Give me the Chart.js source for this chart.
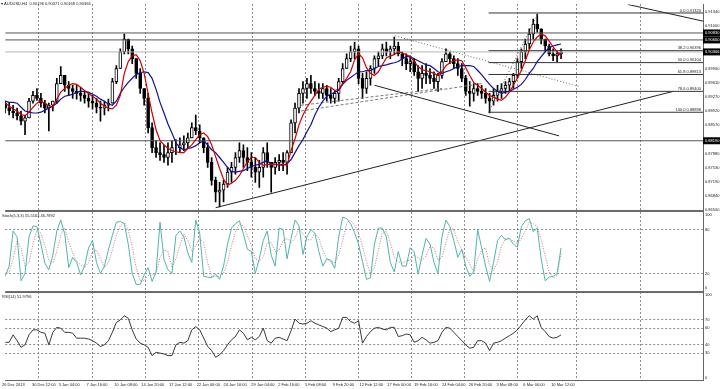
<!DOCTYPE html>
<html lang="en">
<head>
<meta charset="UTF-8">
<title>AUDUSD H4</title>
<script src="https://cdn.jsdelivr.net/npm/chart.js"></script>
<style>
  html, body { margin: 0; padding: 0; background: #fff; }
  canvas { display: block; }
</style>
</head>
<body>
<canvas id="chart" width="720" height="389"></canvas>
<script>
// H4 candles, one entry per bar (bar index = position on the time axis)
const opens = [
  .8911,.8899,.8892,.8887,.8880,.8867,.8875,.8916,.8930,.8923,
  .8911,.8899,.8906,.8916,.8959,.8979,.8955,.8947,.8940,.8935,
  .8930,.8923,.8916,.8911,.8901,.8899,.8906,.8911,.8964,.8996,
  .9037,.9068,.9044,.9020,.8984,.8947,.8923,.8851,.8802,.8790,
  .8785,.8778,.8790,.8802,.8802,.8809,.8814,.8826,.8851,.8843,
  .8826,.8802,.8766,.8722,.8693,.8698,.8713,.8742,.8754,.8778,
  .8795,.8778,.8766,.8754,.8742,.8754,.8790,.8766,.8754,.8766,
  .8771,.8766,.8790,.8863,.8899,.8935,.8947,.8959,.8947,.8940,
  .8935,.8947,.8930,.8923,.8935,.8964,.8996,.9020,.9037,.9044,
  .8972,.8947,.8972,.8996,.9020,.9027,.9044,.9037,.9044,.9051,
  .9032,.9020,.9008,.9013,.8988,.8972,.8984,.8979,.8972,.8964,
  .8979,.9013,.9032,.9020,.9008,.8996,.8972,.8940,.8935,.8947,
  .8940,.8935,.8923,.8916,.8930,.8940,.8947,.8955,.8964,.8979,
  .9013,.9037,.9056,.9080,.9105,.9093,.9068,.9051,.9032,.9027,
  .9032];
const highs = [
  .8916,.8911,.8906,.8899,.8892,.8882,.8923,.8940,.8947,.8935,
  .8918,.8911,.8916,.8972,.9001,.8979,.8964,.8955,.8955,.8950,
  .8940,.8935,.8930,.8923,.8916,.8916,.8921,.8972,.9003,.9044,
  .9080,.9068,.9051,.9020,.8996,.8947,.8935,.8863,.8819,.8814,
  .8809,.8814,.8819,.8822,.8826,.8831,.8838,.8863,.8882,.8858,
  .8826,.8814,.8778,.8730,.8717,.8722,.8754,.8766,.8790,.8814,
  .8809,.8802,.8790,.8778,.8771,.8802,.8814,.8766,.8778,.8785,
  .8790,.8795,.8870,.8911,.8947,.8964,.8972,.8979,.8964,.8959,
  .8959,.8955,.8947,.8940,.8972,.9008,.9032,.9051,.9061,.9051,
  .8984,.8988,.9003,.9027,.9037,.9056,.9061,.9051,.9073,.9061,
  .9037,.9032,.9027,.9020,.9003,.9003,.9008,.8996,.8988,.8984,
  .9020,.9044,.9037,.9027,.9020,.9008,.8979,.8964,.8959,.8959,
  .8955,.8947,.8935,.8947,.8955,.8959,.8964,.8972,.8984,.9020,
  .9044,.9068,.9093,.9117,.9129,.9093,.9068,.9056,.9044,.9039,
  .9044];
const lows = [
  .8887,.8882,.8875,.8870,.8858,.8834,.8875,.8911,.8918,.8901,
  .8887,.8843,.8892,.8911,.8959,.8940,.8930,.8923,.8921,.8916,
  .8911,.8901,.8897,.8887,.8867,.8882,.8892,.8911,.8959,.8996,
  .9032,.9032,.9008,.8972,.8935,.8906,.8838,.8790,.8778,.8771,
  .8766,.8759,.8766,.8785,.8790,.8795,.8802,.8826,.8834,.8814,
  .8790,.8754,.8710,.8669,.8657,.8669,.8705,.8717,.8737,.8766,
  .8754,.8746,.8730,.8717,.8705,.8730,.8754,.8693,.8737,.8746,
  .8746,.8737,.8790,.8838,.8887,.8911,.8923,.8935,.8930,.8923,
  .8923,.8916,.8911,.8911,.8916,.8959,.8996,.9013,.9020,.8959,
  .8923,.8935,.8955,.8984,.9003,.9020,.9027,.9020,.9032,.9027,
  .9003,.8993,.8988,.8979,.8940,.8947,.8959,.8959,.8947,.8940,
  .8972,.9013,.9008,.8996,.8979,.8964,.8930,.8904,.8916,.8930,
  .8923,.8911,.8887,.8906,.8916,.8923,.8935,.8940,.8947,.8972,
  .8996,.9020,.9044,.9068,.9085,.9056,.9037,.9027,.9015,.9013,
  .9020];
const closes = [
  .8899,.8892,.8887,.8880,.8867,.8875,.8916,.8930,.8923,.8911,
  .8899,.8906,.8916,.8959,.8979,.8955,.8947,.8940,.8935,.8930,
  .8923,.8916,.8911,.8901,.8899,.8906,.8911,.8964,.8996,.9037,
  .9068,.9044,.9020,.8984,.8947,.8923,.8851,.8802,.8790,.8785,
  .8778,.8790,.8802,.8802,.8809,.8814,.8826,.8851,.8843,.8826,
  .8802,.8766,.8722,.8693,.8698,.8713,.8742,.8754,.8778,.8795,
  .8778,.8766,.8754,.8742,.8754,.8790,.8766,.8754,.8766,.8771,
  .8766,.8790,.8863,.8899,.8935,.8947,.8959,.8947,.8940,.8935,
  .8947,.8930,.8923,.8935,.8964,.8996,.9020,.9037,.9044,.8972,
  .8947,.8972,.8996,.9020,.9027,.9044,.9037,.9044,.9051,.9032,
  .9020,.9008,.9013,.8988,.8972,.8984,.8979,.8972,.8964,.8979,
  .9013,.9032,.9020,.9008,.8996,.8972,.8940,.8935,.8947,.8940,
  .8935,.8923,.8916,.8930,.8940,.8947,.8955,.8964,.8979,.9013,
  .9037,.9056,.9080,.9105,.9093,.9068,.9051,.9032,.9027,.9032,
  .9037];

// moving averages (red = fast, blue = slow)
const maFast = [
  .8911,.8904,.8897,.8892,.8884,.8880,.8889,.8901,.8911,.8916,
  .8911,.8904,.8901,.8921,.8938,.8947,.8955,.8959,.8957,.8950,
  .8942,.8935,.8928,.8921,.8911,.8904,.8899,.8897,.8906,.8930,
  .8984,.9013,.9027,.9030,.9015,.8984,.8935,.8887,.8846,.8819,
  .8809,.8800,.8795,.8792,.8790,.8790,.8800,.8809,.8822,.8834,
  .8838,.8829,.8809,.8780,.8751,.8725,.8710,.8715,.8722,.8734,
  .8751,.8768,.8778,.8778,.8766,.8759,.8761,.8761,.8761,.8761,
  .8761,.8759,.8795,.8824,.8858,.8882,.8901,.8916,.8930,.8945,
  .8950,.8952,.8950,.8942,.8945,.8959,.8972,.8988,.9017,.9032,
  .9022,.8998,.8984,.8979,.8988,.9005,.9022,.9027,.9030,.9037,
  .9034,.9030,.9025,.9013,.9001,.8993,.8991,.8988,.8984,.8979,
  .8988,.9003,.9010,.9015,.9017,.9015,.8998,.8979,.8962,.8955,
  .8947,.8938,.8930,.8926,.8921,.8918,.8926,.8938,.8955,.8972,
  .8991,.9015,.9042,.9061,.9073,.9080,.9076,.9063,.9049,.9037,
  .9027];
const maSlow = [
  .8916,.8913,.8913,.8911,.8901,.8892,.8889,.8887,.8887,.8889,
  .8894,.8899,.8904,.8911,.8921,.8928,.8930,.8933,.8938,.8940,
  .8940,.8938,.8933,.8928,.8921,.8916,.8909,.8906,.8916,.8935,
  .8950,.8962,.8972,.8981,.8986,.8988,.8986,.8972,.8945,.8913,
  .8887,.8860,.8838,.8814,.8802,.8797,.8800,.8802,.8807,.8814,
  .8819,.8809,.8797,.8790,.8778,.8766,.8754,.8744,.8742,.8744,
  .8746,.8751,.8756,.8759,.8761,.8766,.8771,.8761,.8761,.8759,
  .8759,.8763,.8773,.8790,.8807,.8822,.8841,.8858,.8882,.8901,
  .8916,.8928,.8933,.8938,.8942,.8957,.8967,.8974,.8981,.8988,
  .8988,.8991,.8991,.8996,.9001,.9003,.9005,.9008,.9010,.9013,
  .9020,.9025,.9025,.9020,.9015,.9010,.9005,.9003,.8996,.8988,
  .8984,.8988,.8991,.8996,.9001,.9003,.9003,.9003,.9001,.8991,
  .8981,.8969,.8957,.8947,.8940,.8935,.8938,.8940,.8945,.8950,
  .8957,.8969,.8984,.8996,.9013,.9025,.9037,.9047,.9051,.9054,
  .9056];

// Stochastic (5,3,3): main and signal
const stochMain = [
  16,30,78,70,10,20,70,85,84,60, 34,25,45,78,93,74,28,42,35,18,
  30,55,65,35,20,30,52,72,90,91, 88,60,20,5,5,18,28,9,22,90,
  39,25,20,72,78,70,48,35,93,75, 16,15,14,19,12,30,60,82,88,92,
  74,53,50,20,40,65,78,45,30,82, 80,40,68,93,85,46,70,80,75,50,
  30,40,38,27,70,97,95,88,76,60, 36,12,14,60,82,82,70,35,22,50,
  30,30,55,50,19,45,68,60,35,20, 70,93,84,65,42,53,30,16,22,80,
  55,30,9,35,65,72,66,68,60,56, 84,92,95,77,82,40,10,15,16,20,
  55];
const stochSignal = [
  20,22,40,65,55,30,35,60,80,75, 58,38,34,50,72,82,63,48,36,32,
  28,35,50,52,40,28,35,52,72,85, 90,80,56,28,10,10,17,18,20,42,
  52,50,28,40,58,74,65,50,58,68, 62,35,15,16,15,20,35,58,77,88,
  85,72,58,40,37,42,62,62,50,52, 65,68,62,68,82,74,66,66,75,68,
  52,40,36,35,45,65,88,93,86,75, 57,36,20,28,52,75,78,62,42,36,
  34,37,38,45,41,38,44,58,54,38, 42,62,82,80,63,53,42,33,22,40,
  52,55,31,24,36,57,68,68,64,61, 67,78,90,88,84,66,44,22,14,17,
  47];

// RSI(14)
const rsi = [
  43,43,52,45,37,40,52,58,58,55, 54,40,55,61,60,55,55,54,48,48,
  48,47,45,42,38,40,45,55,67,70, 75,72,58,47,42,40,37,27,31,30,
  29,27,27,40,43,42,45,58,62,58, 48,38,33,25,28,33,40,46,50,58,
  54,46,49,46,50,60,45,42,48,49, 47,45,57,71,66,65,66,69,66,64,
  62,60,56,58,60,73,73,68,66,69, 42,50,56,60,61,59,58,61,61,50,
  51,53,52,43,45,49,46,42,43,45, 55,61,60,55,50,45,40,36,37,45,
  45,42,33,42,43,45,48,51,54,58, 64,70,75,71,75,61,56,50,48,49,
  52];

// time axis: bar index of each label, and of each dashed grid line
const xLabelPos = [-0.8, 6.75, 13.5, 20.5, 27.5, 34.25, 41.25, 48.25, 55, 62, 68.75,
  75.5, 82.5, 89.25, 96.25, 103, 110, 116.75, 123.75, 130.5, 137.5];
const xLabels = ['26 Dec 2013', '30 Dec 12:00', '3 Jan 04:00', '7 Jan 16:00', '10 Jan 08:00',
  '14 Jan 20:00', '17 Jan 12:00', '22 Jan 00:00', '24 Jan 16:00', '29 Jan 04:00', '2 Feb 16:00',
  '5 Feb 08:00', '9 Feb 20:00', '12 Feb 12:00', '17 Feb 00:00', '19 Feb 16:00', '24 Feb 04:00',
  '26 Feb 20:00', '3 Mar 08:00', '6 Mar 00:00', '10 Mar 12:00'];
const gridPos = [15.25, 28.75, 42, 55.5, 69, 82.25, 95.5, 109, 122.25, 135.75, 152];
const lastIndex = 175.75;

// price scale labels and marked prices
const priceTicks = [0.91340, 0.91000, 0.89960, 0.89610, 0.89270, 0.88920, 0.88570,
  0.87880, 0.87530, 0.87190, 0.86840, 0.86500];
const hLinePrices = [0.90830, 0.90660, 0.88190];
const bidPrice = 0.90366;
const fibStart = 121.75;
const fibLevels = [0.91320, 0.90396, 0.90104, 0.89813, 0.89400, 0.88888];
const fibNames = ['0.0', '38.2', '50.0', '61.8', '78.6', '100.0'];

// drawn objects: [bar0, price0, bar1, price1]
const solidLines = [
  [53, 0.8655, 168.25, 0.8940],
  [93, 0.8955, 139.5, 0.8831],
  [156.75, 0.9153, 175.75, 0.9112]
];
const dottedLines = [
  [98.25, 0.9076, 144.5, 0.8952],
  [121.75, 0.88888, 134.25, 0.91320]
];
const dashedLines = [
  [74.5, 0.8892, 120, 0.8959],
  [74.5, 0.8906, 110, 0.8947]
];

const stochTicks = [0, 20, 80, 100];
const rsiTicks = [0, 30, 40, 60, 70, 100];

Chart.defaults.font.family = '"Liberation Sans", Arial, sans-serif';
Chart.defaults.font.size = 4;
Chart.defaults.color = '#222';

const idx = closes.map((c, i) => i);
const seg = (s) => [{x: s[0], y: s[1]}, {x: s[2], y: s[3]}];
const lineDs = (data, color, opts) => Object.assign({
  type: 'line', data: data, borderColor: color, borderWidth: 1,
  pointRadius: 0, tension: 0, xAxisID: 'x', yAxisID: 'y', order: 1
}, opts || {});

const datasets = [];
// moving averages on top
datasets.push(lineDs(idx.map(i => ({x: i, y: maFast[i]})), '#cc0000', {borderWidth: 1.2, order: 0}));
datasets.push(lineDs(idx.map(i => ({x: i, y: maSlow[i]})), '#10109a', {borderWidth: 1.2, order: 0}));
// candles
datasets.push({
  type: 'bar', xAxisID: 'x', yAxisID: 'y', order: 2, grouped: false,
  data: idx.map(i => ({x: i, y: [opens[i], closes[i]]})),
  backgroundColor: idx.map(i => closes[i] >= opens[i] ? '#fff' : '#000'),
  borderColor: '#000', borderWidth: 1, borderSkipped: false, barThickness: 3
});
datasets.push({
  type: 'bar', xAxisID: 'x', yAxisID: 'y', order: 3, grouped: false,
  data: idx.map(i => ({x: i, y: [lows[i], highs[i]]})),
  backgroundColor: '#000', barThickness: 1
});
// horizontal lines, fib levels, trend lines
hLinePrices.forEach(p => datasets.push(lineDs([{x: 0, y: p}, {x: lastIndex, y: p}], '#555')));
datasets.push(lineDs([{x: 0, y: bidPrice}, {x: lastIndex, y: bidPrice}], '#b4b4b4'));
fibLevels.forEach(p => datasets.push(lineDs([{x: fibStart, y: p}, {x: lastIndex, y: p}], '#333')));
solidLines.forEach(s => datasets.push(lineDs(seg(s), '#222')));
dottedLines.forEach(s => datasets.push(lineDs(seg(s), '#666', {borderDash: [1, 2]})));
dashedLines.forEach(s => datasets.push(lineDs(seg(s), '#777', {borderDash: [3, 2]})));
// stochastic
datasets.push(lineDs(idx.map(i => ({x: i, y: stochMain[i]})), '#4fb5ad', {yAxisID: 'ys'}));
datasets.push(lineDs(idx.map(i => ({x: i, y: stochSignal[i]})), '#c87878', {yAxisID: 'ys', borderDash: [1, 1.5]}));
// rsi
datasets.push(lineDs(idx.map(i => ({x: i, y: rsi[i]})), '#222', {yAxisID: 'yr', borderWidth: 0.9}));

const rightAxis = (extra) => Object.assign({
  position: 'right', stack: 'panes', offset: false,
  afterFit: s => { s.width = 17; },
  border: {color: '#666', dash: [2, 2]},
  ticks: {padding: 2, autoSkip: false, font: {size: 4}, color: '#222'}
}, extra);

const overlay = {
  id: 'overlay',
  afterDraw(chart) {
    const {ctx, scales} = chart;
    const {x, y, ys, yr} = scales;
    ctx.save();
    // pane separators
    ctx.fillStyle = '#6a6a6a';
    ctx.fillRect(x.left, ys.top - 1, x.right - x.left, 2);
    ctx.fillRect(x.left, yr.top - 1, x.right - x.left, 2);
    // black price boxes on the price scale
    ctx.font = '4px "Liberation Sans", Arial, sans-serif';
    ctx.textBaseline = 'middle';
    ctx.textAlign = 'left';
    hLinePrices.concat([bidPrice]).forEach(p => {
      const py = y.getPixelForValue(p);
      ctx.fillStyle = '#000';
      ctx.fillRect(y.left, py - 3.5, y.width, 7);
      ctx.fillStyle = '#fff';
      ctx.fillText(p.toFixed(5), y.left + 2, py);
    });
    // fibonacci labels
    ctx.fillStyle = '#222';
    ctx.textAlign = 'right';
    ctx.textBaseline = 'bottom';
    fibLevels.forEach((p, k) => {
      ctx.fillText(fibNames[k] + ' ' + p.toFixed(5), x.right - 2, y.getPixelForValue(p) - 0.5);
    });
    // pane titles
    ctx.textAlign = 'left';
    ctx.textBaseline = 'middle';
    ctx.fillText('\u25BE AUDUSD,H4  0.90196 0.90371 0.90168 0.90366', 1, 4);
    ctx.fillText('Stoch(5,3,3) 55.5163 46.7892', 2, ys.top + 5);
    ctx.fillText('RSI(14) 51.9796', 2, yr.top + 5);
    ctx.restore();
  }
};

new Chart(document.getElementById('chart'), {
  type: 'bar',
  data: {datasets: datasets},
  options: {
    responsive: false,
    animation: false,
    devicePixelRatio: 1,
    layout: {padding: 0},
    plugins: {legend: {display: false}, tooltip: {enabled: false}},
    scales: {
      x: {
        type: 'linear', position: 'bottom', min: 0, max: lastIndex, offset: false,
        grid: {display: false, drawTicks: false},
        border: {display: true, color: '#666'},
        afterFit: s => { s.height = 9; },
        afterBuildTicks: s => { s.ticks = xLabelPos.map(v => ({value: v})); },
        ticks: {align: 'start', maxRotation: 0, autoSkip: false, padding: 2,
          callback: (v, i) => xLabels[i]}
      },
      x2: {
        type: 'linear', position: 'top', min: 0, max: lastIndex, offset: false,
        grid: {color: '#8c8c8c', lineWidth: 1, drawTicks: false},
        border: {display: false, dash: [2, 2]},
        afterFit: s => { s.height = 0; },
        afterBuildTicks: s => { s.ticks = gridPos.map(v => ({value: v})); },
        ticks: {display: false}
      },
      y: rightAxis({
        type: 'linear', min: 0.8647, max: 0.9153, stackWeight: 209,
        grid: {display: false, drawTicks: false},
        afterBuildTicks: s => { s.ticks = priceTicks.map(v => ({value: v})); },
        ticks: {padding: 2, autoSkip: false, callback: v => v.toFixed(5)}
      }),
      ys: rightAxis({
        type: 'linear', min: -5.4, max: 105.4, stackWeight: 82,
        grid: {drawTicks: false, color: c => (c.tick && (c.tick.value === 20 || c.tick.value === 80)) ? '#8c8c8c' : 'rgba(0,0,0,0)'},
        afterBuildTicks: s => { s.ticks = stochTicks.map(v => ({value: v})); },
        ticks: {padding: 2, autoSkip: false}
      }),
      yr: rightAxis({
        type: 'linear', min: -2.4, max: 103.6, stackWeight: 89,
        grid: {drawTicks: false, color: c => (c.tick && c.tick.value > 0 && c.tick.value < 100) ? '#8c8c8c' : 'rgba(0,0,0,0)'},
        afterBuildTicks: s => { s.ticks = rsiTicks.map(v => ({value: v})); },
        ticks: {padding: 2, autoSkip: false}
      })
    }
  },
  plugins: [overlay]
});
</script>
</body>
</html>
